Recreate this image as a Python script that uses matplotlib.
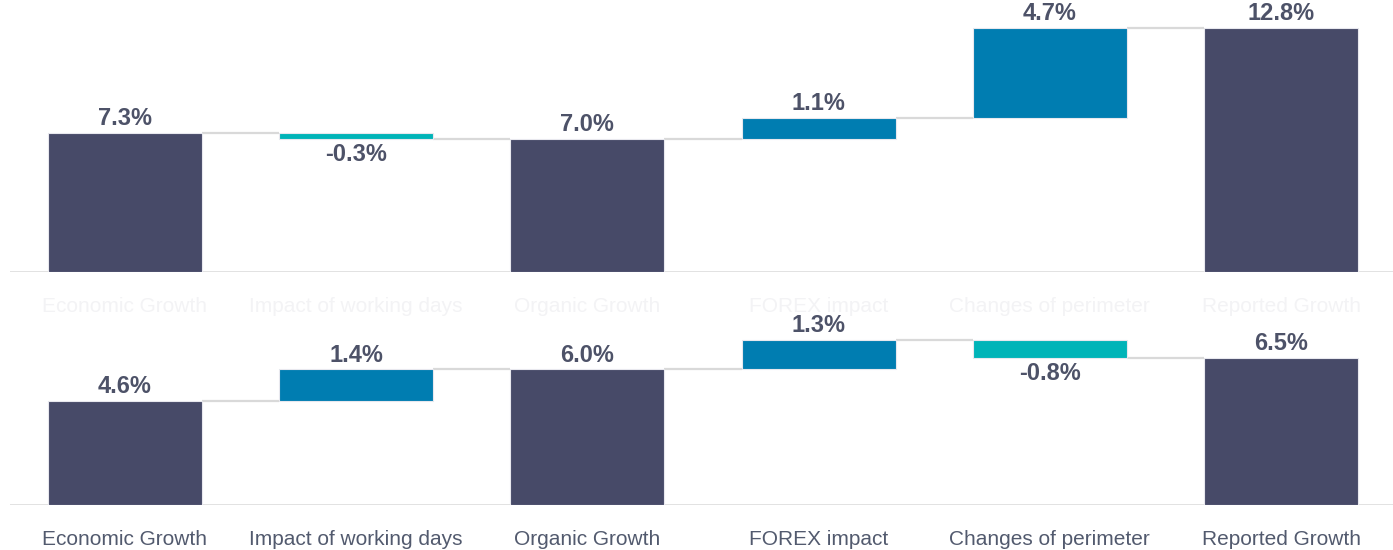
import matplotlib.pyplot as plt

# categories and values (percent)
categories = ['Economic Growth', 'Impact of working days', 'Organic Growth',
              'FOREX impact', 'Changes of perimeter', 'Reported Growth']
top_values = [7.3, -0.3, 7.0, 1.1, 4.7, 12.8]
bottom_values = [4.6, 1.4, 6.0, 1.3, -0.8, 6.5]
# 'total' bars start from zero, 'step' bars float on the running level
kinds = ['total', 'step', 'total', 'step', 'step', 'total']

DARK = '#474a68'
UP = '#007db1'
DOWN = '#00b4b8'
GRID = '#d9d9d9'
TXT = '#4d5268'

plt.rcParams['font.family'] = ['Liberation Sans', 'DejaVu Sans']


def waterfall(ax, values, ymax, label_color):
    level = 0.0
    tops = []
    width = 0.666
    for i, (v, k) in enumerate(zip(values, kinds)):
        if k == 'total':
            bottom, height, color = 0, v, DARK
            level = v
            end = v
        else:
            bottom, height = level, v
            color = UP if v >= 0 else DOWN
            level = level + v
            end = level
        ax.bar(i, height, bottom=bottom, width=width, color=color,
               edgecolor='#e8e8ee', linewidth=0.8, zorder=3)
        top = max(bottom, bottom + height)
        low = min(bottom, bottom + height)
        if v >= 0:
            ax.annotate(f'{v:.1f}%', (i, top), xytext=(0, 2), textcoords='offset points',
                        ha='center', va='bottom', fontsize=17, fontweight='bold', color=TXT)
        else:
            ax.annotate(f'{v:.1f}%', (i, low), xytext=(0, -3), textcoords='offset points',
                        ha='center', va='top', fontsize=17, fontweight='bold', color=TXT)
        tops.append(end)
    # connector lines between bars
    for i in range(len(values) - 1):
        ax.plot([i + width / 2, i + 1 - width / 2], [tops[i], tops[i]],
                color=GRID, lw=1.6, zorder=2, solid_capstyle='butt')
    ax.axhline(0, color=GRID, lw=1.8, zorder=1)
    ax.set_xlim(-0.497, 5.484)
    ax.set_ylim(0, ymax)
    ax.set_xticks(range(len(categories)))
    ax.set_xticklabels(categories, fontsize=15, color=label_color)
    ax.tick_params(axis='x', length=0, pad=18)
    ax.set_yticks([])
    for s in ax.spines.values():
        s.set_visible(False)


fig = plt.figure(figsize=(13.93, 5.5), dpi=100)
ax1 = fig.add_axes([10 / 1393, 278 / 550, 1383 / 1393, 262 / 550])
ax2 = fig.add_axes([10 / 1393, 45 / 550, 1383 / 1393, 185 / 550])

waterfall(ax1, top_values, 262 / 19.06, '#f3f3f5')
waterfall(ax2, bottom_values, 185 / 22.6, '#525a6e')

fig.savefig('out.png', dpi=100)
